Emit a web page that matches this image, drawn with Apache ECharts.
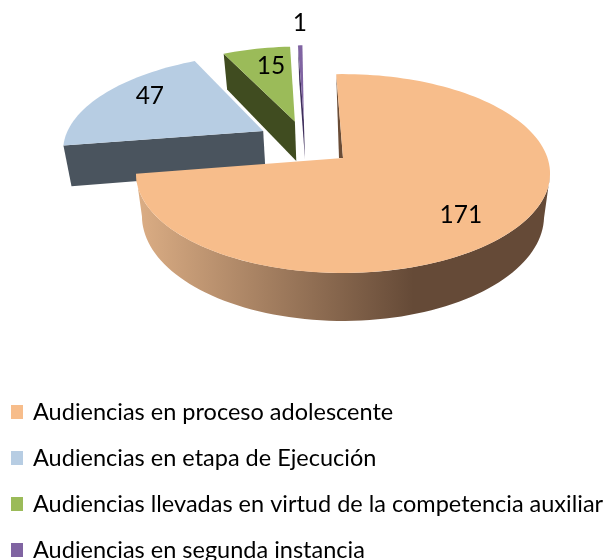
<!DOCTYPE html>
<html><head><meta charset="utf-8">
<style>html,body{margin:0;padding:0;background:#fff}#c{width:607px;height:560px}</style>
<script src="https://cdn.jsdelivr.net/npm/echarts@6/dist/echarts.min.js"></script>
</head><body><div id="c"></div>
<script>
const categories = ['Audiencias en proceso adolescente','Audiencias en etapa de Ejecución','Audiencias llevadas en virtud de la competencia auxiliar','Audiencias en segunda instancia'];
const values = [171, 47, 15, 1];
const topColors = ['#f7bd8b','#b7cde3','#9bbb59','#8064a2'];
const cutColors = ['#6a4c36','#4a545e','#404c20','#3f2f5c'];
// exploded offset of each slice, in units of the pie radius (right, away)
const explode = [[0,0],[-0.408,0.291],[-0.25,0.4],[-0.204,0.42]];
// label anchor of each slice, in the same disc units
const labelAnchor = [[0.528,-0.538],[-1.049,0.71],[-0.413,1.113],[-0.269,1.776]];
const START_DEG = -2.2;
const P = 0.156;
const TOP = {x:343, y:158, a:204.5, b:97};
const BOT = {x:343, y:199.6, a:198.6, b:102.4};

function proj(L,u,v){const w=1+P*v;return [L.x+L.a*u/w, L.y-L.b*v/w];}
function rim(L,off,d){const t=d*Math.PI/180;return proj(L,Math.sin(t)+off[0],Math.cos(t)+off[1]);}
function arc(L,off,d0,d1){const n=Math.max(2,Math.ceil(Math.abs(d1-d0)/2));const o=[];for(let i=0;i<=n;i++)o.push(rim(L,off,d0+(d1-d0)*i/n));return o;}

const total = values.reduce((a,b)=>a+b,0);
const starts = [];
values.reduce((acc,v)=>{starts.push(acc);return acc+v/total*360;},START_DEG);

function makeRender(i){
  return function(params, api){
    const val = api.value(0);
    const d0 = starts[i], d1 = d0 + val/total*360, off = explode[i];
    const apexT = proj(TOP,off[0],off[1]), apexB = proj(BOT,off[0],off[1]);
    const children = [];
    const poly=(points,fill)=>children.push({type:'polygon',shape:{points},style:{fill}});
    if(i===0){
      const wallFrom = Math.max(d0, 100);
      const wall = arc(TOP,off,wallFrom,d1).concat(arc(BOT,off,wallFrom,d1).reverse());
      poly(wall,new echarts.graphic.LinearGradient(0,0,1,0,[
        {offset:0,color:'#dcae85'},{offset:0.67,color:'#654a37'},{offset:1,color:'#654a37'}]));
      poly([rim(TOP,off,d0),apexT,[apexT[0]-4,apexT[1]]],cutColors[0]);
    } else {
      poly([rim(TOP,off,d0),apexT,apexB,rim(BOT,off,d0)],cutColors[i]);
    }
    poly([apexT].concat(arc(TOP,off,d0,d1)),topColors[i]);
    const lp = proj(TOP,labelAnchor[i][0],labelAnchor[i][1]);
    children.push({type:'text',z2:10,style:{text:String(val),x:lp[0],y:lp[1],fill:'#000',
      font:'24.5px Lato',align:'center',verticalAlign:'middle'}});
    return {type:'group',children};
  };
}

const zOrder = [5,2,3,4];
const chart = echarts.init(document.getElementById('c'),null,{renderer:'canvas'});
chart.setOption({
  animation:false,
  backgroundColor:'#fff',
  legend:{
    orient:'vertical',left:11,top:400,height:220,padding:0,
    itemWidth:12,itemHeight:14,itemGap:22,
    icon:'rect',
    selectedMode:false,
    data:categories,
    textStyle:{fontFamily:'Lato',fontSize:23.5,color:'#000',padding:[0,0,0,5]}
  },
  series:categories.map((name,i)=>({
    type:'custom',name,coordinateSystem:'none',silent:true,z:zOrder[i],
    itemStyle:{color:topColors[i]},
    renderItem:makeRender(i),
    data:[[values[i]]]
  }))
});
</script></body></html>
